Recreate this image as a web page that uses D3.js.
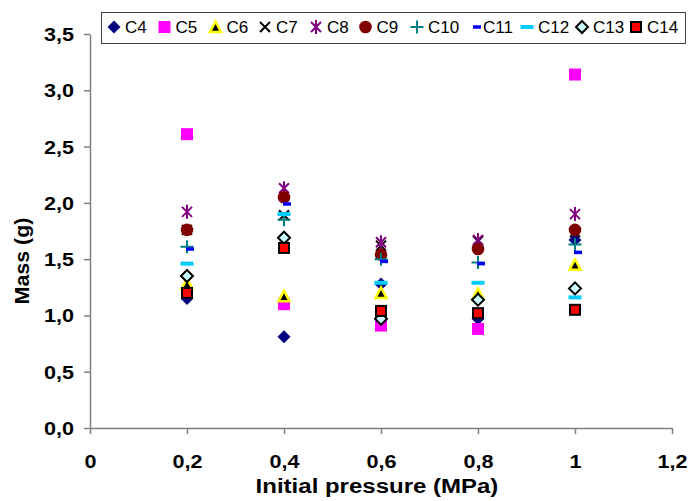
<!DOCTYPE html>
<html><head><meta charset="utf-8">
<script src="https://cdn.jsdelivr.net/npm/d3@7/dist/d3.min.js"></script>
<style>body{margin:0;background:#fff}svg{display:block}</style>
</head><body>
<svg id="chart" width="692" height="501"></svg>
<script>
// ---- data ----
const pressures = [0.2, 0.4, 0.6, 0.8, 1.0];
const C4  = [1.15, 0.81, 1.28, 0.97, 1.67];
const C5  = [2.61, 1.10, 0.91, 0.88, 3.14];
const C6  = [1.28, 1.17, 1.20, 1.19, 1.45];
const C7  = [1.76, 1.89, 1.62, 1.66, 1.74];
const C8  = [1.92, 2.13, 1.65, 1.67, 1.90];
const C9  = [1.76, 2.05, 1.54, 1.59, 1.76];
const C10 = [1.61, 1.85, 1.50, 1.47, 1.63];
const C11 = [1.59, 1.99, 1.48, 1.46, 1.56];
const C12 = [1.46, 1.90, 1.29, 1.29, 1.16];
const C13 = [1.35, 1.69, 0.97, 1.14, 1.24];
const C14 = [1.20, 1.60, 1.04, 1.02, 1.05];
const seriesNames = ["C4","C5","C6","C7","C8","C9","C10","C11","C12","C13","C14"];
const seriesValues = [C4,C5,C6,C7,C8,C9,C10,C11,C12,C13,C14];
const xTickValues = [0, 0.2, 0.4, 0.6, 0.8, 1.0, 1.2];
const xTickLabels = ["0","0,2","0,4","0,6","0,8","1","1,2"];
const yTickValues = [0, 0.5, 1.0, 1.5, 2.0, 2.5, 3.0, 3.5];
const yTickLabels = ["0,0","0,5","1,0","1,5","2,0","2,5","3,0","3,5"];
const xTitle = "Initial pressure (MPa)";
const yTitle = "Mass (g)";

// ---- layout ----
const svg = d3.select("#chart");
const FONT = "'Liberation Sans', Arial, sans-serif";
const x = d3.scaleLinear().domain([0, 1.2]).range([90, 672]);
const y = d3.scaleLinear().domain([0, 3.5]).range([428, 34]);
const AX = "#808080";

function stretch(sel, f) {
  sel.each(function(){
    const w = this.getComputedTextLength();
    d3.select(this).attr("textLength", w * f).attr("lengthAdjust", "spacingAndGlyphs");
  });
}

// axes
const gx = svg.append("g").attr("transform", `translate(0,${y(0)})`)
  .call(d3.axisBottom(x).tickValues(xTickValues).tickFormat((d,i)=>xTickLabels[i]).tickSize(6).tickSizeOuter(0));
const gy = svg.append("g").attr("transform", `translate(${x(0)},0)`)
  .call(d3.axisLeft(y).tickValues(yTickValues).tickFormat((d,i)=>yTickLabels[i]).tickSize(6).tickSizeOuter(0));
[gx, gy].forEach(g => {
  g.select(".domain").attr("stroke", AX).attr("stroke-width", 1.5);
  g.selectAll(".tick line").attr("stroke", AX).attr("stroke-width", 1.5);
  g.selectAll("text").attr("fill", "#000").attr("font-family", FONT)
    .attr("font-weight", "bold").attr("font-size", 18);
});
gx.selectAll(".tick text").attr("y", 40).attr("dy", 0);
gy.selectAll(".tick text").attr("x", -16).attr("dy", "0.36em");
stretch(gx.selectAll(".tick text"), 1.2);
stretch(gy.selectAll(".tick text"), 1.2);

// titles
const xt = svg.append("text").attr("x", 377).attr("y", 493).attr("text-anchor", "middle")
  .attr("font-family", FONT).attr("font-weight", "bold").attr("font-size", 20).text(xTitle);
stretch(xt, 1.2);
const yt = svg.append("text").attr("transform", "translate(29,261) rotate(-90)").attr("text-anchor", "middle")
  .attr("font-family", FONT).attr("font-weight", "bold").attr("font-size", 20).text(yTitle);
stretch(yt, 1.07);

// markers
function marker(g, name) {
  switch (name) {
    case "C4": g.append("path").attr("d", "M0,-6.5L6.5,0L0,6.5L-6.5,0Z").attr("fill", "#000080"); break;
    case "C5": g.append("rect").attr("x", -6).attr("y", -6).attr("width", 12).attr("height", 12).attr("fill", "#FF00FF"); break;
    case "C6": g.append("path").attr("d", "M0,-5.5L5.5,5L-5.5,5Z").attr("fill", "#000").attr("stroke", "#FFFF00").attr("stroke-width", 2.5).attr("stroke-linejoin", "miter"); break;
    case "C7": g.append("path").attr("d", "M-5,-5L5,5M-5,5L5,-5").attr("stroke", "#000").attr("stroke-width", 2).attr("fill", "none"); break;
    case "C8": g.append("path").attr("d", "M-5,-5L5,5M-5,5L5,-5M0,-7L0,7").attr("stroke", "#800080").attr("stroke-width", 2).attr("fill", "none"); break;
    case "C9": g.append("circle").attr("r", 6.3).attr("fill", "#800000"); break;
    case "C10": g.append("path").attr("d", "M-6.5,0L6.5,0M0,-6.5L0,6.5").attr("stroke", "#008080").attr("stroke-width", 2).attr("fill", "none"); break;
    case "C11": g.append("rect").attr("x", -1).attr("y", -1.75).attr("width", 8).attr("height", 3.5).attr("fill", "#0000FF"); break;
    case "C12": g.append("rect").attr("x", -6.5).attr("y", -2).attr("width", 13).attr("height", 4).attr("fill", "#00CCFF"); break;
    case "C13": g.append("path").attr("d", "M0,-6L6,0L0,6L-6,0Z").attr("fill", "#CCFFFF").attr("stroke", "#000").attr("stroke-width", 2); break;
    case "C14": g.append("rect").attr("x", -5).attr("y", -5).attr("width", 10).attr("height", 10).attr("fill", "#FF0000").attr("stroke", "#000").attr("stroke-width", 2); break;
  }
}

seriesNames.forEach((name, si) => {
  const g = svg.append("g");
  seriesValues[si].forEach((v, i) => {
    const m = g.append("g").attr("transform", `translate(${x(pressures[i])},${y(v)})`);
    marker(m, name);
  });
});

// legend
const legendMarkerX = [114, 164.5, 215.5, 265, 316, 365.5, 417, 474, 527, 582, 636];
const lg = svg.append("g");
lg.append("rect").attr("x", 101.5).attr("y", 12.5).attr("width", 584).attr("height", 31)
  .attr("fill", "#fff").attr("stroke", "#404040").attr("stroke-width", 1);
seriesNames.forEach((name, i) => {
  const m = lg.append("g").attr("transform", `translate(${legendMarkerX[i]},27)`);
  marker(m, name);
  lg.append("text").attr("x", legendMarkerX[i] + (name === "C11" ? 9 : 11)).attr("y", 33)
    .attr("font-family", FONT).attr("font-size", 17).attr("fill", "#000").text(name);
});
</script>
</body></html>
